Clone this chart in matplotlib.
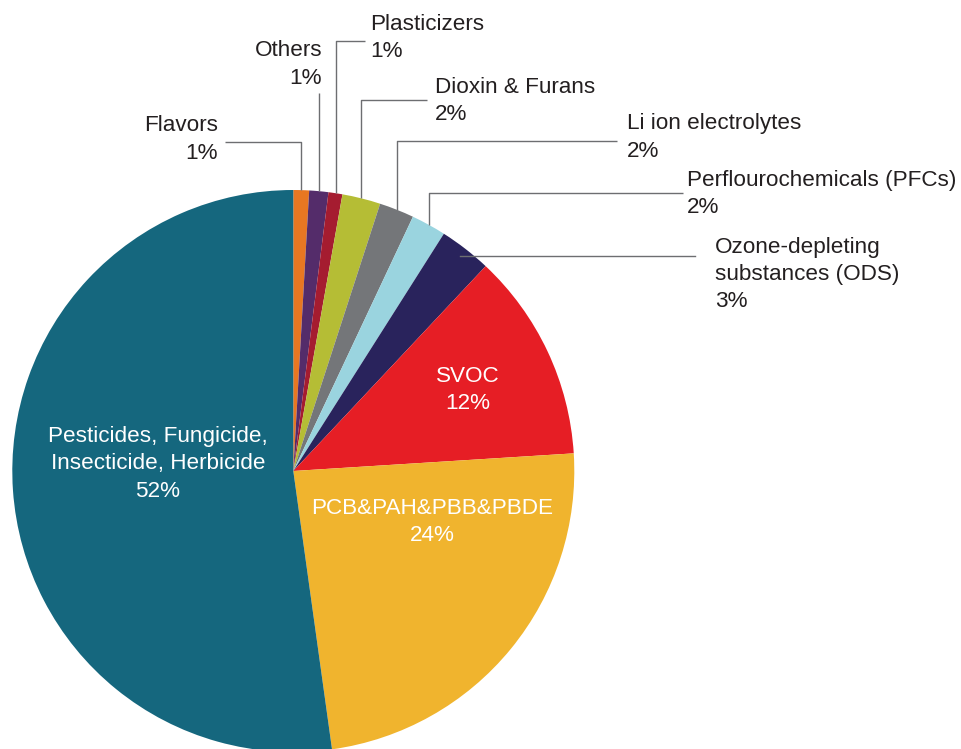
import numpy as np
import matplotlib
matplotlib.use("Agg")
from matplotlib import pyplot as plt

plt.rcParams['font.family'] = ['Liberation Sans', 'DejaVu Sans']

# slices, clockwise from 12 o'clock
labels = ["Flavors", "Others", "Plasticizers", "Dioxin & Furans",
          "Li ion electrolytes", "Perflourochemicals (PFCs)",
          "Ozone-depleting\nsubstances (ODS)", "SVOC", "PCB&PAH&PBB&PBDE",
          "Pesticides, Fungicide,\nInsecticide, Herbicide"]
values = [0.9, 1.1, 0.8, 2.2, 2.0, 2.0, 3.0, 12.0, 23.8, 52.2]
pct_text = ["1%", "1%", "1%", "2%", "2%", "2%", "3%", "12%", "24%", "52%"]
colors = ["#E87722", "#542C6A", "#A51C30", "#B5BD35", "#747679",
          "#9AD4DF", "#29235C", "#E61E25", "#F0B42E", "#15677E"]

W, H = 961, 749
cx, cy, R = 293.3, 471, 281   # pixel coords (y down)


def fy(y):
    # pixel y (top-down) -> axes y
    return H - y


fig = plt.figure(figsize=(W / 100, H / 100), dpi=100)
ax = fig.add_axes([0, 0, 1, 1])

wedges, _ = ax.pie(values, colors=colors, startangle=90, counterclock=False,
                   center=(cx, fy(cy)), radius=R,
                   wedgeprops=dict(linewidth=0))
ax.set_xlim(0, W)
ax.set_ylim(0, H)
ax.set_aspect('equal')
ax.axis('off')

txt_col = "#231F20"
line_col = "#6D6E71"
fs = 16.2
lsp = 1.38

# outside labels: (elbow y, line end x, text x, align, text centre y)
outside = {
    0: (141.7, 225, 218, 'right', 139.5),
    1: (92.7, None, 322, 'right', 64.5),
    2: (41, 365, 370, 'left', 38),
    3: (100, 427, 435, 'left', 101),
    4: (140.7, 617, 627, 'left', 137.5),
    5: (192.7, 683, 687, 'left', 194),
}

for i, (ey, ex, tx, ha, ty) in outside.items():
    w = wedges[i]
    mid = np.deg2rad((w.theta1 + w.theta2) / 2)
    px = cx + R * np.cos(mid)
    py = cy - R * np.sin(mid)
    xs = [px, px]
    ys = [fy(py), fy(ey)]
    if ex is not None:
        xs.append(ex)
        ys.append(fy(ey))
    ax.plot(xs, ys, color=line_col, lw=1.0, solid_capstyle='butt')
    ax.text(tx, fy(ty), labels[i] + "\n" + pct_text[i], ha=ha, va='center',
            fontsize=fs, color=txt_col, linespacing=lsp, multialignment=ha)

# ODS: straight horizontal leader
w = wedges[6]
mid = np.deg2rad((w.theta1 + w.theta2) / 2)
px = cx + R * np.cos(mid) - 6
py = cy - R * np.sin(mid) + 7
ax.plot([px, 695], [fy(py), fy(py)], color=line_col, lw=1.0)
ax.text(715, fy(274.5), labels[6] + "\n" + pct_text[6], ha='left', va='center',
        fontsize=fs, color=txt_col, linespacing=lsp)

# inside labels
inside = {7: (468, 390), 8: (432, 522), 9: (158, 464)}
for i, (tx, ty) in inside.items():
    ax.text(tx, fy(ty), labels[i] + "\n" + pct_text[i], ha='center',
            va='center', fontsize=fs, color='white', linespacing=lsp)

fig.savefig("out.png", dpi=100)
